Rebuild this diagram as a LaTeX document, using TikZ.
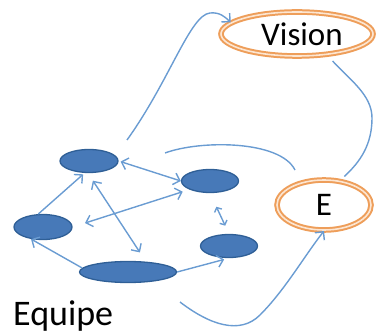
\documentclass[tikz,border=0pt]{standalone}
\usepackage{fontspec}
\setmainfont{Carlito}
\usetikzlibrary{shapes.geometric,arrows.meta}
\definecolor{blobfill}{HTML}{4779B8}
\definecolor{blobdraw}{HTML}{2F5F96}
\definecolor{linkblue}{HTML}{6A9CD2}
\definecolor{ringorange}{HTML}{EE9E5A}
\definecolor{ringinner}{HTML}{FCE6D2}
\begin{document}
\begin{tikzpicture}[x=1pt,y=-1pt,
  >={Straight Barb[length=6pt,width=12pt]},
  blob/.style={ellipse, fill=blobfill, draw=blobdraw, line width=1.3pt, inner sep=0pt},
  ring/.style={ellipse, draw=ringorange, line width=2pt, double=ringinner, double distance=1.6pt, inner sep=0pt, font=\fontsize{33}{33}\selectfont},
  link/.style={draw=linkblue, line width=1.4pt},
  smalltips/.style={{Straight Barb[length=3.5pt,width=8pt]}-{Straight Barb[length=3.5pt,width=8pt]}}
]
\useasboundingbox (0,0) rectangle (382,336);

\node[ring, minimum width=152pt, minimum height=44pt] (vision) at (297,34) {\hspace*{10pt}Vision};
\node[ring, minimum width=94pt, minimum height=50pt] (e) at (324,205) {E};

\node[blob, minimum width=58pt, minimum height=23pt] (a) at (89,161) {};
\node[blob, minimum width=57pt, minimum height=23pt] (b) at (210,181) {};
\node[blob, minimum width=58pt, minimum height=25pt] (c) at (43,227) {};
\node[blob, minimum width=57pt, minimum height=23pt] (d) at (229,246) {};
\node[blob, minimum width=97pt, minimum height=21pt] (f) at (128,272) {};

\node[anchor=base west, font=\fontsize{36}{36}\selectfont, inner sep=0pt] (equipe) at (13,325) {Equipe};

\draw[link,<->,shorten <=2pt] (a.east) -- (b.west);
\draw[link,->,shorten >=2pt] (c.110) -- (a.250);
\draw[link,->] (f.175) -- (c.225);
\draw[link,<->,shorten <=9pt,shorten >=11pt] (a.265) -- (f.30);
\draw[link,<->,shorten <=13pt,shorten >=7pt] (c.east) -- (b.south west);
\draw[link,->,shorten >=5pt] (f.east) -- (d.south);
\draw[link,smalltips,shorten <=15pt,shorten >=9pt] (b.south) -- (d.north);

\coordinate (s1) at (127,140);
\draw[link,->] (s1) .. controls (170,80) and (190,15) .. (210,13) .. controls (220,12) and (225,17) .. (vision.170);
\draw[link,shorten <=8pt,shorten >=6pt] (vision.-35) .. controls (350,80) and (372,95) .. (372,118) .. controls (372,145) and (360,162) .. (e.57);
\coordinate (s2) at (165,153);
\coordinate (s3) at (295,170);
\draw[link] (s2) .. controls (200,140) and (280,140) .. (s3);
\coordinate (s4) at (180,302);
\draw[link,->] (s4) .. controls (210,325) and (240,335) .. (260,315) .. controls (285,290) and (305,255) .. (e.south);
\end{tikzpicture}
\end{document}
